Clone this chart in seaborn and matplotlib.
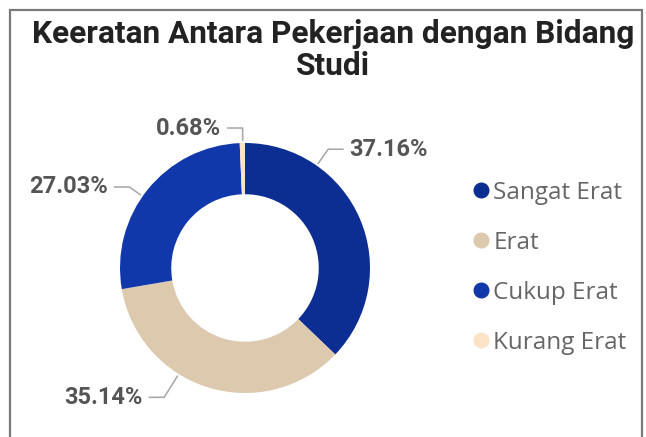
import numpy as np
import seaborn as sns
import matplotlib.pyplot as plt
from matplotlib.lines import Line2D
from matplotlib.patches import Rectangle

sns.set_theme(style="white")
plt.rcParams['font.family'] = ['Roboto', 'DejaVu Sans']

categories = ["Sangat Erat", "Erat", "Cukup Erat", "Kurang Erat"]
counts = [55, 52, 40, 1]
pct_labels = ["37.16%", "35.14%", "27.03%", "0.68%"]
colors = ["#0C2E92", "#DCC9AE", "#1038AA", "#FCE2C6"]

# leader line layout: angle where it leaves the ring (deg), elbow radius, text side
label_angles = [55, 238, 145, 91]
elbow_r = [1.16, 1.22, 1.13, 1.12]
label_side = [1, -1, -1, -1]

W, H = 646, 437
fig = plt.figure(figsize=(W / 100, H / 100), dpi=100)

# axes sized so that 1 data unit = 125 px, centre at (245, 268)
ax = fig.add_axes([0, 0, 490 / W, 338 / H])
wedges, _ = ax.pie(counts, colors=colors, startangle=90, counterclock=False,
                   radius=1.0, wedgeprops=dict(width=0.41, linewidth=0))
ax.set_xlim(-1.96, 1.96)
ax.set_ylim(-1.352, 1.352)
ax.set_aspect("equal", adjustable="box")
ax.axis("off")

for lab, ang, r1, side in zip(pct_labels, label_angles, elbow_r, label_side):
    a = np.deg2rad(ang)
    x0, y0 = np.cos(a) * 1.02, np.sin(a) * 1.02
    x1, y1 = np.cos(a) * r1, np.sin(a) * r1
    x2 = x1 + side * 0.12
    ax.plot([x0, x1, x2], [y0, y1, y1], color="#a5a5a5", lw=1.1, clip_on=False)
    ax.text(x2 + side * 0.05, y1, lab, ha="left" if side > 0 else "right",
            va="center", fontsize=17, fontweight="bold", color="#555555")

fig.text(333 / W, 1 - 50 / H, "Keeratan Antara Pekerjaan dengan Bidang\nStudi",
         ha="center", va="center", fontsize=22.8, fontweight="bold", color="#222222",
         linespacing=1.12)

handles = [Line2D([], [], marker="o", linestyle="", markersize=10.5,
                  markerfacecolor=c, markeredgecolor=c) for c in colors]
leg = fig.legend(handles, categories, loc="upper left",
                 bbox_to_anchor=(447 / W, 1 - 159 / H), frameon=False,
                 handletextpad=0.0, handlelength=1.0, labelspacing=1.07,
                 prop={"family": ["Open Sans", "DejaVu Sans"], "size": 17.5})
for t in leg.get_texts():
    t.set_color("#666666")

# card frame
fig.add_artist(Rectangle((10 / W, -0.1), (632 / W), 1 - 10 / H + 0.1,
                         transform=fig.transFigure, fill=False,
                         edgecolor="#7a7a7a", linewidth=1.6))

fig.savefig("out.png", dpi=100)
